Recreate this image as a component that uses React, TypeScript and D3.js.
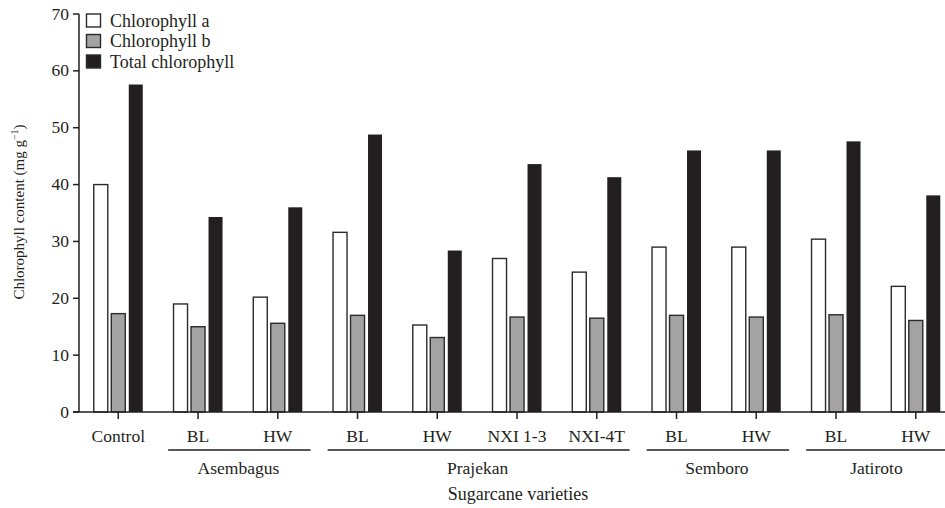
import React from "react";
import * as d3 from "d3";

const categoryLabels = ["Control", "BL", "HW", "BL", "HW", "NXI 1-3", "NXI-4T", "BL", "HW", "BL", "HW"];
const categoryIds = ["Control", "Asembagus BL", "Asembagus HW", "Prajekan BL", "Prajekan HW", "Prajekan NXI 1-3", "Prajekan NXI-4T", "Semboro BL", "Semboro HW", "Jatiroto BL", "Jatiroto HW"];

const chlorophyllA = [40, 19, 20.2, 31.6, 15.3, 27, 24.6, 29, 29, 30.4, 22.1];
const chlorophyllB = [17.3, 15, 15.6, 17, 13.1, 16.7, 16.5, 17, 16.7, 17.1, 16.1];
const totalChlorophyll = [57.6, 34.3, 36, 48.8, 28.4, 43.6, 41.3, 46, 46, 47.6, 38.1];

const seriesNames = ["Chlorophyll a", "Chlorophyll b", "Total chlorophyll"];

const groupNames = ["Asembagus", "Prajekan", "Semboro", "Jatiroto"];
const groupFirst = [1, 3, 7, 9];
const groupLast = [2, 6, 8, 10];

const yTicks = [0, 10, 20, 30, 40, 50, 60, 70];

const W = 945;
const H = 508;
const FONT = "'Liberation Serif', 'Times New Roman', serif";

export default function App() {
  const x = d3.scaleBand<string>().domain(categoryIds).range([78.4, 78.4 + 11 * 79.75]).padding(0);
  const inner = d3.scaleBand<string>().domain(seriesNames).range([0, 49]).paddingInner(0.2).paddingOuter(0);
  const y = d3.scaleLinear().domain([0, 70]).range([412, 14]);

  const series = [chlorophyllA, chlorophyllB, totalChlorophyll];
  const fills = ["#ffffff", "#a3a3a3", "#231f20"];
  const strokes = ["#2b2b2b", "#2b2b2b", "none"];

  const axisX = 79;
  const bw = x.bandwidth();

  return (
    <svg width={W} height={H} style={{ display: "block", position: "absolute", left: 0, top: 0, background: "#fff" }}>
      {/* bars */}
      {categoryIds.map((id, i) => {
        const cx = (x(id) as number) + bw / 2 - 24.5;
        return (
          <g key={id}>
            {series.map((s, k) => {
              const bx = cx + (inner(seriesNames[k]) as number);
              const top = y(s[i]);
              return (
                <rect
                  key={k}
                  x={bx}
                  y={top}
                  width={inner.bandwidth()}
                  height={y(0) - top}
                  fill={fills[k]}
                  stroke={strokes[k]}
                  strokeWidth={1.4}
                />
              );
            })}
          </g>
        );
      })}

      {/* y axis */}
      <line x1={axisX} x2={axisX} y1={y(70)} y2={y(0)} stroke="#231f20" strokeWidth={1.5} />
      {yTicks.map((t) => (
        <g key={t}>
          <line x1={axisX - 6} x2={axisX} y1={y(t)} y2={y(t)} stroke="#231f20" strokeWidth={1.5} />
          <text x={axisX - 10} y={y(t) + 5.5} textAnchor="end" fontFamily={FONT} fontSize={17.5} fill="#231f20">
            {t}
          </text>
        </g>
      ))}

      {/* x axis */}
      <line x1={axisX - 6} x2={W} y1={y(0)} y2={y(0)} stroke="#231f20" strokeWidth={1.5} />
      {categoryIds.map((id, i) => {
        const cx = (x(id) as number) + bw / 2;
        return (
          <g key={id}>
            <line x1={cx} x2={cx} y1={y(0)} y2={y(0) + 7} stroke="#231f20" strokeWidth={1.5} />
            <text x={cx} y={442} textAnchor="middle" fontFamily={FONT} fontSize={17.5} fill="#231f20">
              {categoryLabels[i]}
            </text>
          </g>
        );
      })}

      {/* group brackets */}
      {groupNames.map((g, j) => {
        const x1 = (x(categoryIds[groupFirst[j]]) as number) + 10;
        const x2 = (x(categoryIds[groupLast[j]]) as number) + bw - 7;
        return (
          <g key={g}>
            <line x1={x1} x2={Math.min(x2, W)} y1={450} y2={450} stroke="#231f20" strokeWidth={1.5} />
            <text x={(x1 + x2) / 2 - 1} y={474} textAnchor="middle" fontFamily={FONT} fontSize={17.5} fill="#231f20">
              {g}
            </text>
          </g>
        );
      })}

      <text x={518} y={500} textAnchor="middle" fontFamily={FONT} fontSize={18} fill="#231f20">
        Sugarcane varieties
      </text>

      {/* y label */}
      <text
        transform={`translate(24, 212) rotate(-90)`}
        textAnchor="middle"
        fontFamily={FONT}
        fontSize={15}
        fill="#231f20"
      >
        Chlorophyll content (mg g
        <tspan dy={-6} fontSize={10}>−1</tspan>
        <tspan dy={6}>)</tspan>
      </text>

      {/* legend */}
      {seriesNames.map((n, k) => (
        <g key={n}>
          <rect
            x={86.5}
            y={14 + k * 20.5}
            width={14}
            height={13}
            fill={fills[k]}
            stroke="#2b2b2b"
            strokeWidth={1.4}
          />
          <text x={110} y={26.5 + k * 20.5} fontFamily={FONT} fontSize={18} fill="#231f20">
            {n}
          </text>
        </g>
      ))}
    </svg>
  );
}
